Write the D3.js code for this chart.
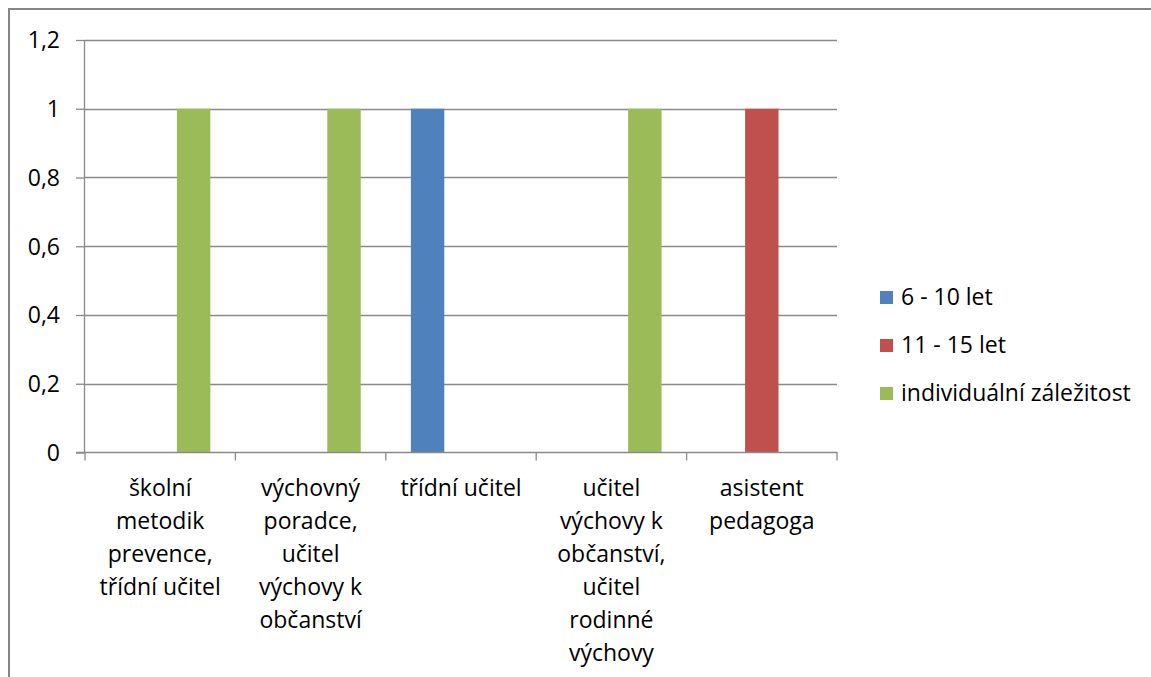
<!DOCTYPE html>
<html>
<head>
<meta charset="utf-8">
<script src="https://cdn.jsdelivr.net/npm/d3@7"></script>
<style>
  html, body { margin: 0; padding: 0; background: #fff; }
  svg { display: block; }
  text { font-family: "Open Sans", "Noto Sans", sans-serif; fill: #000; }
</style>
</head>
<body>
<svg id="chart" width="1151" height="677"></svg>
<script>
// ---- data ----
const categories = [
  "školní metodik prevence, třídní učitel",
  "výchovný poradce, učitel výchovy k občanství",
  "třídní učitel",
  "učitel výchovy k občanství, učitel rodinné výchovy",
  "asistent pedagoga"
];
const categoryLines = [
  ["školní", "metodik", "prevence,", "třídní učitel"],
  ["výchovný", "poradce,", "učitel", "výchovy k", "občanství"],
  ["třídní učitel"],
  ["učitel", "výchovy k", "občanství,", "učitel", "rodinné", "výchovy"],
  ["asistent", "pedagoga"]
];
const seriesNames = ["6 - 10 let", "11 - 15 let", "individuální záležitost"];
const series6to10 = [0, 0, 1, 0, 0];
const series11to15 = [0, 0, 0, 0, 1];
const seriesIndividual = [1, 1, 0, 1, 0];
const yTicks = [0, 0.2, 0.4, 0.6, 0.8, 1, 1.2];
const yTickLabels = ["0", "0,2", "0,4", "0,6", "0,8", "1", "1,2"];
const colors = ["#4F81BD", "#C0504D", "#9BBB59"];

const seriesValues = [series6to10, series11to15, seriesIndividual];

// ---- layout ----
const FS = "23px";
const svg = d3.select("#chart");
const plot = { left: 85, right: 837, top: 40, bottom: 452.5 };

svg.append("rect")
  .attr("x", 9).attr("y", 9)
  .attr("width", 1200).attr("height", 800)
  .attr("fill", "none").attr("stroke", "#868686").attr("stroke-width", 2);

const x = d3.scaleBand().domain(categories).range([plot.left, plot.right]).paddingInner(0).paddingOuter(0);
const bw = x.bandwidth() / 4.5;
const xs = d3.scaleBand().domain(seriesNames).range([0.75 * bw, 3.75 * bw]).padding(0);
const y = d3.scaleLinear().domain([0, 1.2]).range([plot.bottom, plot.top]);

// gridlines
svg.append("g").selectAll("line").data(yTicks.filter(d => d > 0)).join("line")
  .attr("x1", plot.left).attr("x2", plot.right)
  .attr("y1", d => Math.round(y(d)) + 0.5).attr("y2", d => Math.round(y(d)) + 0.5)
  .attr("stroke", "#8a8a8a").attr("stroke-width", 1.3);

// y axis
const yAxis = d3.axisLeft(y).tickValues(yTicks).tickSize(9).tickPadding(16)
  .tickFormat((d, i) => yTickLabels[i]);
const gy = svg.append("g").attr("transform", `translate(${plot.left},0)`).call(yAxis)
  .attr("font-family", null).attr("font-size", null);
gy.select(".domain").attr("stroke", "#8a8a8a").attr("stroke-width", 1.3).attr("d", `M-0.5,${plot.top}V${plot.bottom}`);
gy.selectAll(".tick line").attr("stroke", "#8a8a8a").attr("stroke-width", 1.3);
gy.selectAll(".tick text").style("font-size", FS).attr("fill", "#000").attr("dy", "0.34em");

// bars
seriesNames.forEach((s, si) => {
  svg.append("g").selectAll("rect")
    .data(categories.map((c, ci) => ({ c, v: seriesValues[si][ci] })).filter(d => d.v > 0))
    .join("rect")
    .attr("x", d => x(d.c) + xs(s))
    .attr("width", xs.bandwidth())
    .attr("y", d => y(d.v))
    .attr("height", d => y(0) - y(d.v))
    .attr("fill", colors[si]);
});

// x axis
const xAxisLine = svg.append("g");
xAxisLine.append("line")
  .attr("x1", plot.left - 9).attr("x2", plot.right + 0.5)
  .attr("y1", plot.bottom).attr("y2", plot.bottom)
  .attr("stroke", "#8a8a8a").attr("stroke-width", 1.3);
const boundaries = categories.map(c => x(c)).concat([plot.right]);
xAxisLine.selectAll("line.tk").data(boundaries).join("line").attr("class", "tk")
  .attr("x1", d => d).attr("x2", d => d)
  .attr("y1", plot.bottom).attr("y2", plot.bottom + 8)
  .attr("stroke", "#8a8a8a").attr("stroke-width", 1.3);

// category labels
const lbl = svg.append("g");
categories.forEach((c, ci) => {
  const t = lbl.append("text")
    .attr("x", x(c) + x.bandwidth() / 2)
    .attr("y", 496)
    .attr("text-anchor", "middle")
    .style("font-size", FS);
  categoryLines[ci].forEach((ln, li) => {
    t.append("tspan").attr("x", x(c) + x.bandwidth() / 2).attr("dy", li === 0 ? 0 : 33).text(ln);
  });
});

// legend
const legend = svg.append("g");
seriesNames.forEach((s, si) => {
  const yy = 291 + si * 48;
  legend.append("rect").attr("x", 880).attr("y", yy).attr("width", 13).attr("height", 13).attr("fill", colors[si]);
  legend.append("text").attr("x", 901).attr("y", yy + 14).style("font-size", FS).text(s);
});
</script>
</body>
</html>
